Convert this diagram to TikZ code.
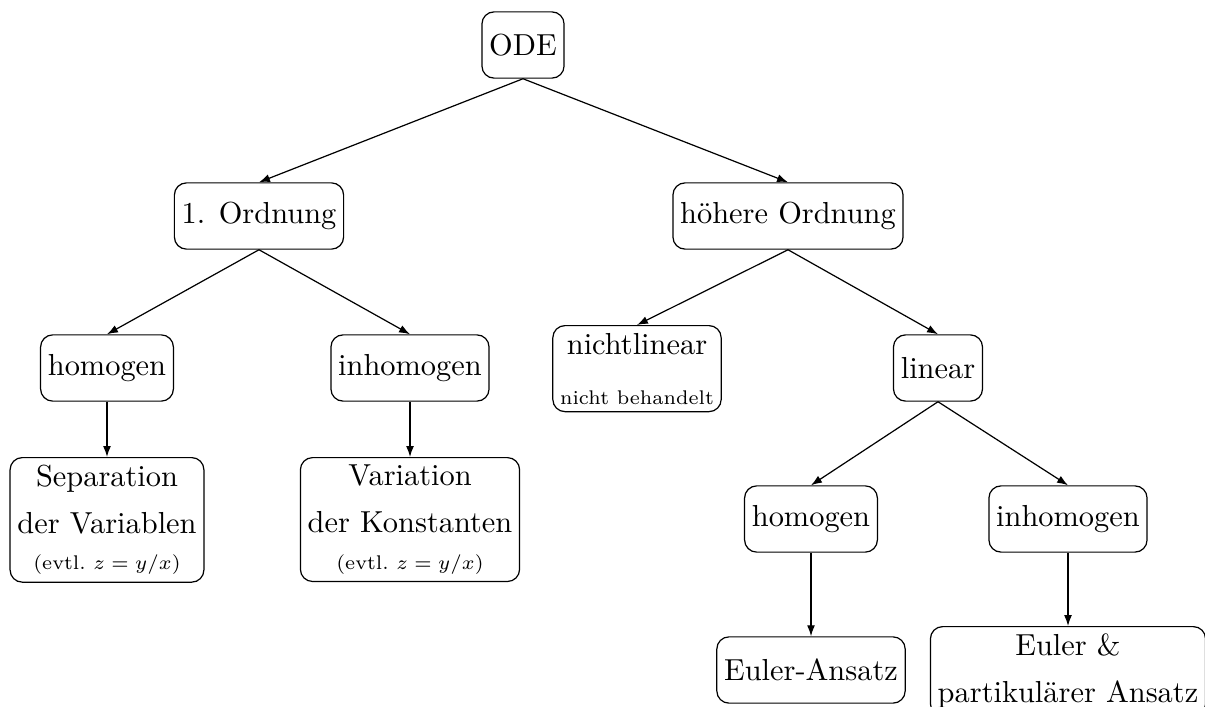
\documentclass[tikz,border=0pt]{standalone}
\usepackage{graphicx}
\usetikzlibrary{arrows.meta}
\newcommand{\smf}[1]{\scalebox{0.93}{\scriptsize #1}}
\begin{document}
\begin{tikzpicture}[x=0.329pt,y=-0.329pt,
  box/.style={draw, rounded corners=4pt, minimum height=21.8pt, inner sep=2.4pt, align=center},
  arr/.style={-{Latex[length=3.6pt,width=2.6pt]}}]
\useasboundingbox (0,0) rectangle (1205,707);
\node[box] (ode) at (523,45) {ODE};
\node[box] (o1) at (259,216) {1. Ordnung};
\node[box] (oh) at (788,216) {höhere Ordnung};
\node[box] (hom1) at (107,368) {homogen};
\node[box] (inh1) at (410,368) {inhomogen};
\node[box,anchor=north] (nl) at (637,325) {nichtlinear\\[4.5pt]\smf{nicht behandelt}};
\node[box] (lin) at (938,368) {linear};
\node[box,anchor=north] (sep) at (107,457) {Separation\\[3.5pt]der Variablen\\\smf{(evtl.\ $z=y/x$)}};
\node[box,anchor=north] (var) at (410,457) {Variation\\[3.5pt]der Konstanten\\\smf{(evtl.\ $z=y/x$)}};
\node[box] (hom2) at (811,519) {homogen};
\node[box] (inh2) at (1068,519) {inhomogen};
\node[box] (ea) at (811,670) {Euler-Ansatz};
\node[box,anchor=north] (ep) at (1068,626) {Euler \&\\[3.5pt]partikulärer Ansatz};
\draw[arr] (ode.south) -- (o1.north);
\draw[arr] (ode.south) -- (oh.north);
\draw[arr] (o1.south) -- (hom1.north);
\draw[arr] (o1.south) -- (inh1.north);
\draw[arr] (oh.south) -- (nl.north);
\draw[arr] (oh.south) -- (lin.north);
\draw[arr] (hom1.south) -- (sep.north);
\draw[arr] (inh1.south) -- (var.north);
\draw[arr] (lin.south) -- (hom2.north);
\draw[arr] (lin.south) -- (inh2.north);
\draw[arr] (hom2.south) -- (ea.north);
\draw[arr] (inh2.south) -- (ep.north);
\end{tikzpicture}
\end{document}
